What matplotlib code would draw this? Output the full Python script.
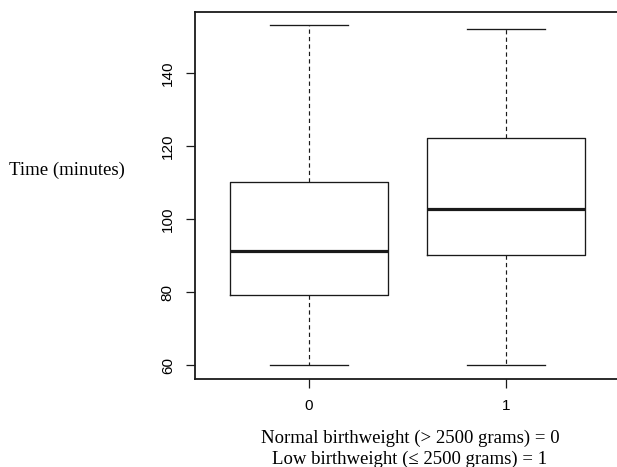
import matplotlib
matplotlib.use("Agg")
import matplotlib.pyplot as plt

groups = ["0", "1"]
whis_low = [60, 60]
q1 = [79.2, 90.1]
median = [91.2, 102.7]
q3 = [110.1, 122.2]
whis_high = [153.1, 152.1]
yticks = [60, 80, 100, 120, 140]

fig = plt.figure(figsize=(6.17, 4.67), dpi=100)
ax = fig.add_axes([0.316, 0.1893, 0.689, 0.785])

stats = []
for g, lo, a, m, b, hi in zip(groups, whis_low, q1, median, q3, whis_high):
    stats.append(dict(label=g, whislo=lo, q1=a, med=m, q3=b, whishi=hi, fliers=[]))

col = "#1a1a1a"
ax.bxp(stats, positions=[1, 2], widths=0.8, showfliers=False, patch_artist=False,
       boxprops=dict(color=col, linewidth=0.95),
       medianprops=dict(color=col, linewidth=2.3, solid_capstyle="butt"),
       whiskerprops=dict(color=col, linewidth=0.85, linestyle=(0, (3.6, 2.7))),
       capprops=dict(color=col, linewidth=0.95),
       capwidths=0.4)

ax.set_xlim(0.42, 2.58)
ax.set_ylim(60 - 0.04 * 93, 153 + 0.04 * 93)
ax.set_yticks(yticks)
ax.set_yticklabels([str(t) for t in yticks], rotation=90, va="center",
                   family="Liberation Sans", fontsize=11)
ax.set_xticks([1, 2])
ax.set_xticklabels(groups, family="Liberation Sans", fontsize=11)
ax.tick_params(axis="both", length=6.5, width=0.9, color=col)
ax.tick_params(axis="y", pad=8)
ax.tick_params(axis="x", pad=8)
ax.spines["right"].set_visible(False)
for s in ax.spines.values():
    s.set_linewidth(1.3)
    s.set_color(col)

fig.text(67 / 617, 1 - 170 / 467, "Time (minutes)", family="Liberation Serif",
         fontsize=13.5, ha="center", va="center")
fig.text(410 / 617, 1 - 438 / 467, "Normal birthweight (> 2500 grams) = 0",
         family="Liberation Serif", fontsize=13.5, ha="center", va="center")
fig.text(410 / 617, 1 - 459 / 467, "Low birthweight (≤ 2500 grams) = 1",
         family="Liberation Serif", fontsize=13.5, ha="center", va="center")

fig.savefig("out.png", dpi=100)
